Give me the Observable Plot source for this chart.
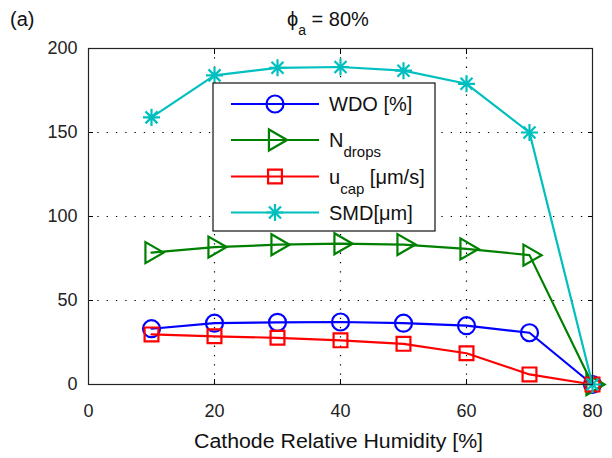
<!DOCTYPE html>
<html>
<head>
<meta charset="utf-8">
<script src="https://cdn.jsdelivr.net/npm/d3@7"></script>
<script src="https://cdn.jsdelivr.net/npm/@observablehq/plot@0.6"></script>
<style>
  html, body { margin: 0; padding: 0; background: #fff; }
  svg { display: block; }
</style>
</head>
<body>
<div id="chart"></div>
<script>
// ---- data ----
const humidity = [10, 20, 30, 40, 50, 60, 70, 80];
const wdo      = [33.2, 36.5, 37, 37.2, 36.5, 35, 30.8, 0];
const nDrops   = [78.5, 81.8, 83.2, 83.8, 83.3, 80.7, 77, 0];
const uCap     = [29.8, 28.7, 27.8, 26.3, 24.2, 18.6, 6, 0];
const smd      = [159, 184, 188.5, 189, 186.8, 179, 150, 0];

const xTicks = [0, 20, 40, 60, 80];
const yTicks = [0, 50, 100, 150, 200];

const seriesNames = ["WDO", "Ndrops", "ucap", "SMD"];
const seriesColors = ["#0000ff", "#008000", "#ff0000", "#00bfbf"];

// ---- marker symbols (MATLAB style) ----
const triangleRight = {
  draw(ctx, size) {
    const s = Math.sqrt(size / (Math.sqrt(3) / 4));
    const h = s * Math.sqrt(3) / 2;
    ctx.moveTo(h * 2 / 3, 0);
    ctx.lineTo(-h / 3, -s / 2);
    ctx.lineTo(-h / 3, s / 2);
    ctx.closePath();
  }
};
const asterisk8 = {
  draw(ctx, size) {
    const r = Math.sqrt(size) * 0.6;
    const d = r * Math.SQRT1_2;
    ctx.moveTo(-r, 0); ctx.lineTo(r, 0);
    ctx.moveTo(0, -r); ctx.lineTo(0, r);
    ctx.moveTo(-d, -d); ctx.lineTo(d, d);
    ctx.moveTo(-d, d); ctx.lineTo(d, -d);
  }
};
const seriesSymbols = ["circle", triangleRight, "square", asterisk8];
const seriesR = [8.5, 7.8, 7.8, 8];
const seriesValues = [wdo, nDrops, uCap, smd];

function table(i) {
  return humidity.map((h, j) => ({x: h, y: seriesValues[i][j]}));
}

const FONT = "Liberation Sans, Arial, Helvetica, sans-serif";

const marks = [
  Plot.gridX(xTicks.slice(1, -1), {stroke: "black", strokeOpacity: 1, strokeWidth: 1.2, strokeDasharray: "1.3,8"}),
  Plot.gridY(yTicks.slice(1, -1), {stroke: "black", strokeOpacity: 1, strokeWidth: 1.2, strokeDasharray: "1.3,8"}),
  Plot.axisX(xTicks, {tickSize: 0, tickPadding: 20, fontSize: 18, label: null, fill: "#222"}),
  Plot.axisY(yTicks, {tickSize: 0, tickPadding: 11, fontSize: 18, label: null, fill: "#222"}),
  Plot.axisX(xTicks, {anchor: "bottom", tickSize: -5, text: null, label: null}),
  Plot.axisX(xTicks, {anchor: "top", tickSize: -5, text: null, label: null}),
  Plot.axisY(yTicks, {anchor: "left", tickSize: -5, text: null, label: null}),
  Plot.axisY(yTicks, {anchor: "right", tickSize: -5, text: null, label: null})
];
seriesNames.forEach((name, i) => {
  const t = table(i);
  marks.push(Plot.line(t, {x: "x", y: "y", stroke: seriesColors[i], strokeWidth: 2.2}));
  marks.push(Plot.dot(t, {x: "x", y: "y", stroke: seriesColors[i], fill: "none", strokeWidth: 2.2,
    symbol: () => seriesSymbols[i], r: seriesR[i]}));
});
marks.push(Plot.frame({stroke: "#222", strokeWidth: 1.2}));

const plot = Plot.plot({
  width: 612,
  height: 458,
  marginLeft: 88,
  marginRight: 20,
  marginTop: 48,
  marginBottom: 74,
  style: {fontFamily: FONT, background: "white", overflow: "visible"},
  x: {domain: [0, 80], label: null},
  y: {domain: [0, 200], label: null},
  symbol: {type: "identity"},
  marks
});
document.getElementById("chart").appendChild(plot);

const svg = d3.select(plot);

function txt(parent, x, y, size) {
  return parent.append("text")
    .attr("x", x).attr("y", y)
    .style("font-family", FONT).style("font-size", size + "px")
    .style("text-anchor", "start").style("fill", "#111");
}

// Title and panel label
const title = txt(svg, 287, 26, 20);
title.append("tspan").text("\u03D5");
title.append("tspan").attr("dy", 9).style("font-size", "14px").text("a");
title.append("tspan").attr("dy", -9).text(" = 80%");

txt(svg, 10, 26, 20).text("(a)");

// X axis label
txt(svg, 194, 448, 19.5)
  .attr("textLength", 289).attr("lengthAdjust", "spacingAndGlyphs")
  .text("Cathode Relative Humidity [%]");

// Legend
const lg = svg.append("g");
lg.append("rect")
  .attr("x", 213).attr("y", 83).attr("width", 222).attr("height", 148)
  .attr("fill", "white").attr("stroke", "#111").attr("stroke-width", 1.2);
const rowY = [104, 140, 176.5, 212.5];
const legendLabels = [
  [["WDO [%]", 0]],
  [["N", 0], ["drops", 1]],
  [["u", 0], ["cap", 1], [" [\u03BCm/s]", -1]],
  [["SMD[\u03BCm]", 0]]
];
seriesNames.forEach((name, i) => {
  const y = rowY[i];
  lg.append("line")
    .attr("x1", 231).attr("x2", 319).attr("y1", y).attr("y2", y)
    .attr("stroke", seriesColors[i]).attr("stroke-width", 2.2);
  const sym = typeof seriesSymbols[i] === "string"
    ? (seriesSymbols[i] === "circle" ? d3.symbolCircle : d3.symbolSquare)
    : seriesSymbols[i];
  lg.append("path")
    .attr("transform", `translate(275,${y})`)
    .attr("d", d3.symbol(sym, Math.PI * seriesR[i] * seriesR[i])())
    .attr("fill", "none").attr("stroke", seriesColors[i]).attr("stroke-width", 2.2);
  const t = txt(lg, 329, y + 7, 20);
  legendLabels[i].forEach(([s, sub]) => {
    const ts = t.append("tspan").text(s);
    if (sub === 1) ts.attr("dy", 10).style("font-size", "15px");
    if (sub === -1) ts.attr("dy", -10);
  });
});
</script>
</body>
</html>
